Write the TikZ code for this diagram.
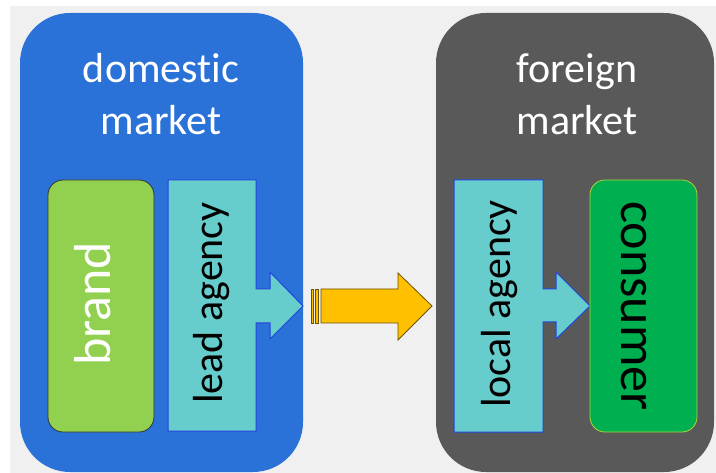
\documentclass[tikz,border=0pt]{standalone}
\usepackage{fontspec}
\setmainfont[Ligatures={NoCommon,NoRare,NoDiscretionary},Contextuals=NoAlternate]{Carlito}
\definecolor{bgc}{HTML}{F0F0F0}
\definecolor{domblue}{HTML}{2A72D8}
\definecolor{forgray}{HTML}{595959}
\definecolor{teal}{HTML}{66CCCC}
\definecolor{tealedge}{HTML}{2244DD}
\definecolor{brandg}{HTML}{92D050}
\definecolor{consg}{HTML}{00B050}
\definecolor{consedge}{HTML}{B4D334}
\definecolor{arrowy}{HTML}{FFC000}
\definecolor{arrowedge}{HTML}{6B5200}
\begin{document}
\begin{tikzpicture}[x=1bp,y=-1bp,
  market/.style={rounded corners=50bp},
  title/.style={text=white,anchor=base,inner sep=0,font=\fontsize{42bp}{52bp}\selectfont},
  agencytxt/.style={text=black,inner sep=0,rotate=90,font=\fontsize{42bp}{50bp}\selectfont},
  bigtxt/.style={inner sep=0,font=\fontsize{52bp}{60bp}\selectfont},
  agencyshape/.style={fill=teal,draw=tealedge,line width=1bp,line join=miter},
]
\useasboundingbox (0,0) rectangle (716,473);
\fill[white] (0,0) rectangle (716,473);
\fill[bgc] (10,6) rectangle (716,473);

% market panels
\fill[domblue,market] (20,13) rectangle (303,472);
\fill[forgray,market] (436,13) rectangle (714,472);

\node[title] (dom1) at (161,83) {domestic};
\node[title] (dom2) at (161,135) {market};
\node[title] (for1) at (577,83) {foreign};
\node[title] (for2) at (577,135) {market};

% brand
\draw[fill=brandg,draw=black!80,line width=0.8bp,rounded corners=15bp] (48,180) rectangle (154,432);
\node[bigtxt,text=white,rotate=90] (brand) at (93,304) {brand};

% lead agency with arrow
\draw[agencyshape] (168,180) -- (256,180) -- (256,289) -- (270,289) -- (270,272) -- (303,306)
  -- (270,339) -- (270,323) -- (256,323) -- (256,431) -- (168,431) -- cycle;
\node[agencytxt] (lead) at (212,303) {lead agency};

% yellow striped arrow
\draw[fill=arrowy,draw=arrowedge,line width=0.8bp] (311,289) rectangle (313,323);
\draw[fill=arrowy,draw=arrowedge,line width=0.8bp] (315.5,289) rectangle (318.5,323);
\draw[fill=arrowy,draw=arrowedge,line width=0.8bp,line join=miter] (321,289) -- (398,289) -- (398,273) -- (432,306)
  -- (398,340) -- (398,323) -- (321,323) -- cycle;

% local agency with arrow
\draw[agencyshape] (454,180) -- (543,180) -- (543,289) -- (556,289) -- (556,272) -- (590,306)
  -- (556,339) -- (556,322) -- (543,322) -- (543,432) -- (454,432) -- cycle;
\node[agencytxt] (local) at (500,304) {local agency};

% consumer
\draw[fill=consg,draw=consedge,line width=0.8bp,rounded corners=15bp] (590,180) rectangle (697,432);
\node[bigtxt,text=black,rotate=-90] (cons) at (634,306) {consumer};
\end{tikzpicture}
\end{document}
